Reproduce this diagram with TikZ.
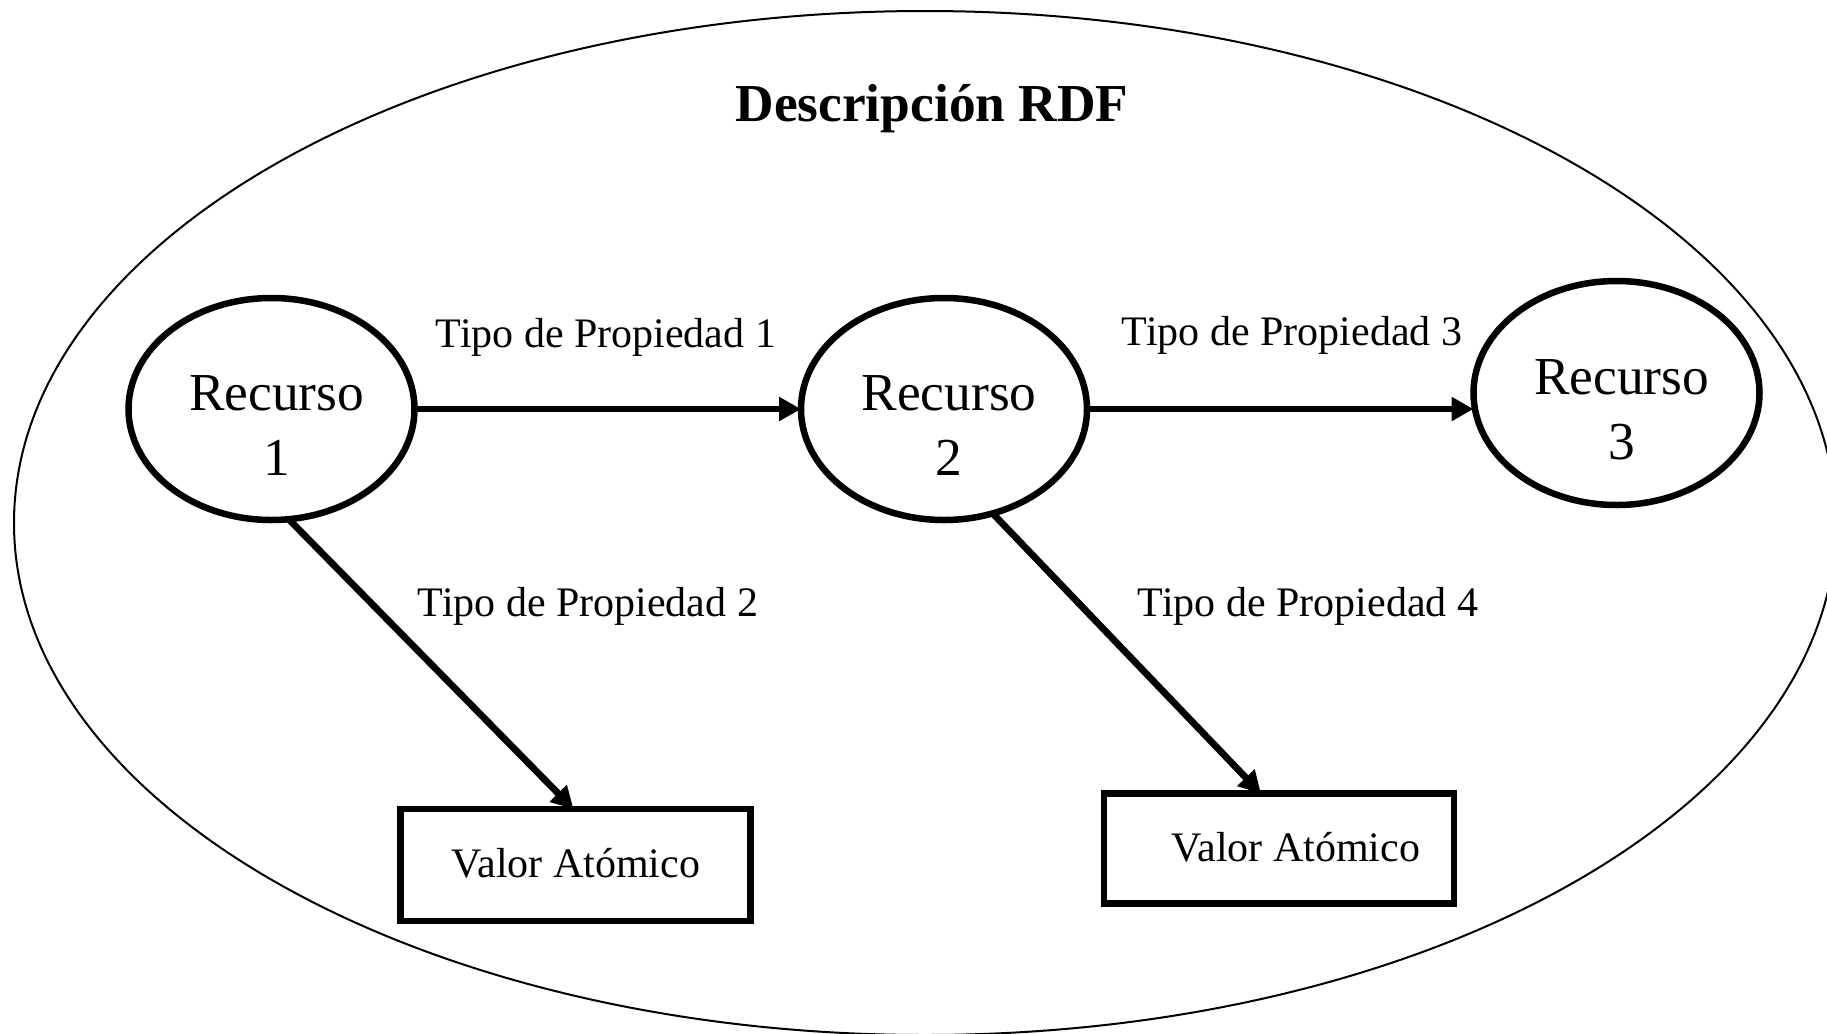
\documentclass[tikz,border=0pt]{standalone}
\usepackage{fontspec}
\setmainfont{Liberation Serif}
\usetikzlibrary{arrows.meta,shapes.geometric}
\begin{document}
\begin{tikzpicture}[x=0.5pt,y=-0.5pt,
  res/.style={ellipse,draw,line width=3.25pt,minimum width=143pt,minimum height=111pt,inner sep=0pt,outer sep=0pt},
  rtxt/.style={align=center,font=\fontsize{26.7}{32.5}\selectfont,inner sep=0pt},
  val/.style={rectangle,draw,line width=3.25pt,minimum width=175pt,minimum height=56pt,inner sep=0pt,outer sep=0pt},
  lbl/.style={font=\fontsize{21}{25}\selectfont,inner sep=0pt},
  arr/.style={line width=3.4pt,-{Triangle[length=11pt,width=11.5pt]}}]
\useasboundingbox (0,0) rectangle (1827,1034);
\draw[line width=1pt] (925,523) ellipse [x radius=455.5pt, y radius=256pt];
\node[font=\bfseries\fontsize{26.7}{32}\selectfont,inner sep=0pt] (title) at (932,109) {Descripción RDF};
\node[res] (r1) at (271.5,409) {};
\node[res] (r2) at (944,409) {};
\node[res,minimum height=112pt] (r3) at (1616.5,393) {};
\node[rtxt] (r1t) at (276.5,426) {Recurso\\1};
\node[rtxt] (r2t) at (949,426) {Recurso\\2};
\node[rtxt] (r3t) at (1621.5,410) {Recurso\\3};
\node[val] (v1) at (575.5,865) {};
\node[val,minimum height=55pt] (v2) at (1279,848.5) {};
\node[lbl] (v1t) at (576,863) {Valor Atómico};
\node[lbl] (v2t) at (1296,847) {Valor Atómico};
\node[lbl] (p1) at (606,337.5) {Tipo de Propiedad 1};
\node[lbl] (p3) at (1292,335.5) {Tipo de Propiedad 3};
\node[lbl] (p2) at (588,606.5) {Tipo de Propiedad 2};
\node[lbl] (p4) at (1308,606.5) {Tipo de Propiedad 4};
\draw[arr] (r1.east) -- (r2.west);
\draw[arr] (r2.east) -- (r3.west |- r2.east);
\draw[arr] ([xshift=9pt]r1.south) -- ([xshift=-1pt]v1.north);
\draw[arr] (r2.-65) -- ([xshift=-9pt]v2.north);
\end{tikzpicture}
\end{document}
